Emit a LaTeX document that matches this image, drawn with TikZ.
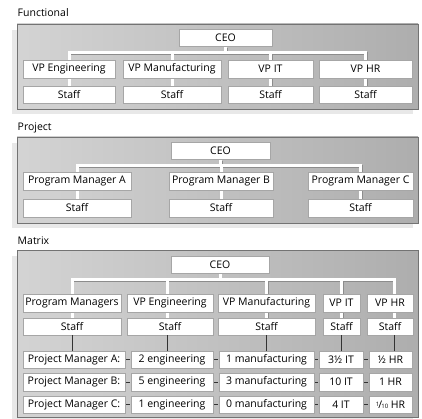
\documentclass[tikz,border=0pt]{standalone}
\usepackage{fontspec}
\setmainfont{Open Sans}
\usetikzlibrary{positioning}
\pgfdeclarelayer{back}
\pgfdeclarelayer{lines}
\pgfsetlayers{back,lines,main}

\newcommand{\tenth}{{\fontsize{6}{6}\selectfont\raisebox{0.5ex}{1}}\kern-0.08em/\kern-0.08em{\fontsize{6}{6}\selectfont 10}}

\begin{document}
\begin{tikzpicture}[x=1pt, y=-1pt,
  font=\fontsize{10.5}{12}\selectfont,
  box/.style={draw=black!35, line width=0.4pt, fill=white, inner sep=0pt, minimum height=17.5pt},
  title/.style={anchor=west, inner sep=0pt},
  panel/.style={draw=black!55, line width=0.6pt, left color=black!17, right color=black!32},
  shadow/.style={fill=black!9},
  wline/.style={white, line width=3pt, preaction={draw=black!45, line width=3pt, transform canvas={shift={(0.8,1.2)}}}},
  bline/.style={black!80, line width=1pt}]

\useasboundingbox (0,0) rectangle (422,419);

% Functional
\node[title] (ftitle) at (17.5,13) {Functional};
\begin{pgfonlayer}{back}
\fill[shadow] (12,30) rectangle (413,114);
\draw[panel] (17,24) rectangle (418,109);
\end{pgfonlayer}

\node[box, minimum width=93pt] (fceo) at (225.5,37.5) {CEO};

\node[box, minimum width=92pt] (fvpe) at (69,69) {VP Engineering};
\node[box, minimum width=98pt] (fvpm) at (172,69) {VP Manufacturing};
\node[box, minimum width=85pt] (fvpi) at (270.5,69) {VP IT};
\node[box, minimum width=93pt] (fvph) at (365.5,69) {VP HR};

\node[box, minimum width=92pt] (fse) at (69,94.5) {Staff};
\node[box, minimum width=98pt] (fsm) at (172,94.5) {Staff};
\node[box, minimum width=85pt] (fsi) at (270.5,94.5) {Staff};
\node[box, minimum width=93pt] (fsh) at (365.5,94.5) {Staff};

\begin{pgfonlayer}{lines}
\draw[wline] (fceo.south) -- ++(0,6) coordinate (fbar)
  (fbar) -| (fse.north) (fbar) -| (fsm.north)
  (fbar) -| (fsi.north) (fbar) -| (fsh.north);
\end{pgfonlayer}

% Project
\node[title] (ptitle) at (17.5,128) {Project};
\begin{pgfonlayer}{back}
\fill[shadow] (12,143) rectangle (413,228);
\draw[panel] (17,137) rectangle (418,223);
\end{pgfonlayer}

\node[box, minimum width=99pt] (pceo) at (220.5,150.5) {CEO};

\node[box, minimum width=108pt] (ppa) at (77,181) {Program Manager A};
\node[box, minimum width=104pt] (ppb) at (221,181) {Program Manager B};
\node[box, minimum width=105pt] (ppc) at (360.5,181) {Program Manager C};

\node[box, minimum width=108pt] (psa) at (77,208) {Staff};
\node[box, minimum width=104pt] (psb) at (221,208) {Staff};
\node[box, minimum width=105pt] (psc) at (360.5,208) {Staff};

\begin{pgfonlayer}{lines}
\draw[wline] (pceo.south) -- ++(0,6) coordinate (pbar)
  (pbar) -| (psa.north) (pbar) -| (psb.north) (pbar) -| (psc.north);
\end{pgfonlayer}

% Matrix
\node[title] (mtitle) at (17.5,241) {Matrix};
\begin{pgfonlayer}{back}
\fill[shadow] (12,256) rectangle (413,419);
\draw[panel] (17,250) rectangle (418,417);
\end{pgfonlayer}

\node[box, minimum width=98pt] (mceo) at (220,264.5) {CEO};

\node[box, minimum width=98pt] (mpm) at (72,303) {Program Managers};
\node[box, minimum width=86pt] (mvpe) at (170,303) {VP Engineering};
\node[box, minimum width=97pt] (mvpm) at (266.5,303) {VP Manufacturing};
\node[box, minimum width=37pt] (mvpi) at (341.5,303) {VP IT};
\node[box, minimum width=46pt] (mvph) at (390,303) {VP HR};

\node[box, minimum width=98pt] (msp) at (72,326.5) {Staff};
\node[box, minimum width=86pt] (mse) at (170,326.5) {Staff};
\node[box, minimum width=97pt] (msm) at (266.5,326.5) {Staff};
\node[box, minimum width=37pt] (msi) at (341.5,326.5) {Staff};
\node[box, minimum width=46pt] (msh) at (390,326.5) {Staff};

\begin{pgfonlayer}{lines}
\draw[wline] (mceo.south) -- ++(0,6) coordinate (mbar)
  (mbar) -| (msp.north) (mbar) -| ([xshift=-3pt]mse.north)
  (mbar) -| (msm.north) (mbar) -| (msi.north)
  (mbar) -| ([xshift=4pt]msh.north);
\end{pgfonlayer}

% project managers in the matrix
\node[box, minimum width=102pt] (ma1) at (74,359.5) {Project Manager A:};
\node[box, minimum width=82pt] (ma2) at (172,359.5) {2 engineering};
\node[box, minimum width=95pt] (ma3) at (266.5,359.5) {1 manufacturing};
\node[box, minimum width=44pt] (ma4) at (341,359.5) {3½ IT};
\node[box, minimum width=43pt] (ma5) at (390.5,359.5) {½ HR};

\node[box, minimum width=102pt] (mb1) at (74,382) {Project Manager B:};
\node[box, minimum width=82pt] (mb2) at (172,382) {5 engineering};
\node[box, minimum width=95pt] (mb3) at (266.5,382) {3 manufacturing};
\node[box, minimum width=44pt] (mb4) at (341,382) {10 IT};
\node[box, minimum width=43pt] (mb5) at (390.5,382) {1 HR};

\node[box, minimum width=102pt] (mc1) at (74,404.5) {Project Manager C:};
\node[box, minimum width=82pt] (mc2) at (172,404.5) {1 engineering};
\node[box, minimum width=95pt] (mc3) at (266.5,404.5) {0 manufacturing};
\node[box, minimum width=44pt] (mc4) at (341,404.5) {4 IT};
\node[box, minimum width=43pt] (mc5) at (390.5,404.5) {\tenth{} HR};

\draw[bline] (msp.south) -- ++(0,15.75);
\draw[bline] ([xshift=-3pt]mse.south) -- ++(0,15.75);
\draw[bline] (msm.south) -- ++(0,15.75);
\draw[bline] (msi.south) -- ++(0,15.75);
\draw[bline] ([xshift=4pt]msh.south) -- ++(0,15.75);

\foreach \r in {ma,mb,mc}
  \foreach \i/\j in {1/2,2/3,3/4,4/5}
    \draw[bline, shorten <=1pt, shorten >=1pt] (\r\i.east) -- (\r\j.west);

\end{tikzpicture}
\end{document}
